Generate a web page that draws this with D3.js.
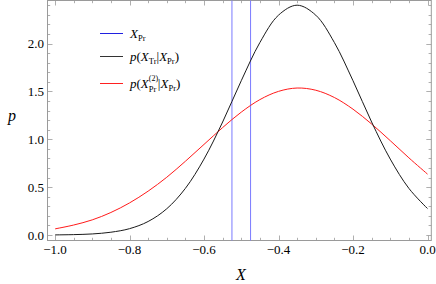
<!DOCTYPE html>
<html><head><meta charset="utf-8">
<script src="https://cdn.jsdelivr.net/npm/d3@7"></script>
<style>body{margin:0;background:#fff}svg{display:block}</style>
</head><body>
<script>
const xs = [-1.00,-0.95,-0.90,-0.85,-0.80,-0.75,-0.70,-0.65,-0.60,-0.55,-0.50,-0.45,-0.40,-0.35,-0.30,-0.25,-0.20,-0.15,-0.10,-0.05,0.00];
const pTr = [0.001,0.004,0.011,0.029,0.066,0.141,0.274,0.487,0.793,1.180,1.611,2.010,2.296,2.400,2.296,2.010,1.611,1.180,0.793,0.487,0.276];
const pPr2 = [0.064,0.104,0.158,0.235,0.335,0.458,0.603,0.770,0.946,1.122,1.283,1.414,1.500,1.535,1.512,1.436,1.314,1.159,0.985,0.806,0.636];
const xPrLines = [-0.525,-0.475];
const xTicks = [-1.0,-0.8,-0.6,-0.4,-0.2,0.0];
const yTicks = [0.0,0.5,1.0,1.5,2.0];

const W=436,H=284;
const svg=d3.select("body").append("svg").attr("width",W).attr("height",H);
const x=d3.scaleLinear().domain([-1,0]).range([55,427.5]);
const y=d3.scaleLinear().domain([0,2]).range([235,43.5]);
const fL=47.5,fR=431.3,fT=0.5,fB=240.5;
const frameCol="#9a9a9a";
const font="'Liberation Serif','Times New Roman',serif";

svg.append("rect").attr("x",fL).attr("y",fT).attr("width",fR-fL).attr("height",fB-fT)
  .attr("fill","none").attr("stroke",frameCol).attr("stroke-width",1);

const g=svg.append("g").attr("stroke",frameCol).attr("stroke-width",0.8);
const xMinor=d3.range(-1,0.0001,0.05);
xMinor.forEach(v=>{
  const major=xTicks.some(t=>Math.abs(t-v)<1e-6);
  const L=major?5:2.7;
  const px=Math.round(x(v))+0.5;
  g.append("line").attr("x1",px).attr("x2",px).attr("y1",fB).attr("y2",fB-L);
  g.append("line").attr("x1",px).attr("x2",px).attr("y1",fT).attr("y2",fT+L);
});
const yMinor=d3.range(0,2.4001,0.1);
yMinor.forEach(v=>{
  const major=Math.abs(Math.round(v*2)-v*2)<1e-6;
  const L=major?5:2.7;
  const py=Math.round(y(v))+0.5;
  g.append("line").attr("y1",py).attr("y2",py).attr("x1",fL).attr("x2",fL+L);
  g.append("line").attr("y1",py).attr("y2",py).attr("x1",fR).attr("x2",fR-L);
});

const fmt=v=>(v<0?"\u2212":"")+Math.abs(v).toFixed(1);
svg.append("g").selectAll("text").data(xTicks).join("text")
  .attr("x",d=>x(d)).attr("y",253.5).attr("text-anchor","middle")
  .attr("font-family",font).attr("font-size",13).attr("fill","#000").text(fmt);
svg.append("g").selectAll("text").data(yTicks).join("text")
  .attr("x",44).attr("y",d=>y(d)+4.5).attr("text-anchor","end")
  .attr("font-family",font).attr("font-size",13).attr("fill","#000").text(fmt);

svg.append("text").attr("x",241).attr("y",280).attr("text-anchor","middle")
  .attr("font-family",font).attr("font-style","italic").attr("font-size",16).text("X");
svg.append("text").attr("x",12).attr("y",121).attr("text-anchor","middle")
  .attr("font-family",font).attr("font-style","italic").attr("font-size",16).text("p");

svg.append("g").selectAll("line").data(xPrLines).join("line")
  .attr("x1",d=>x(d)).attr("x2",d=>x(d)).attr("y1",fT).attr("y2",fB)
  .attr("stroke","#7a7aff").attr("stroke-width",1);

const line=d3.line().x((d,i)=>x(xs[i])).y(d=>y(d)).curve(d3.curveCatmullRom);
svg.append("path").attr("d",line(pPr2)).attr("fill","none").attr("stroke","#ff1a1a").attr("stroke-width",1);
svg.append("path").attr("d",line(pTr)).attr("fill","none").attr("stroke","#1a1a1a").attr("stroke-width",1);

// legend
const leg=[{c:"#2020e0",y:33.5},{c:"#333333",y:56.5},{c:"#ff2020",y:83.5}];
leg.forEach(d=>svg.append("line").attr("x1",100).attr("x2",123).attr("y1",d.y).attr("y2",d.y).attr("stroke",d.c).attr("stroke-width",1));
const lt=svg.append("g").attr("font-family",font).attr("fill","#000");

// runs: [text, italic, size, dyOffset(baseline shift), advance?]
function writeRuns(x0,base,runs){
  let cx=x0;
  runs.forEach(r=>{
    const el=lt.append("text").attr("x",cx).attr("y",base+(r.dy||0))
      .attr("font-size",r.s||13).attr("font-style",r.i?"italic":"normal").text(r.t);
    const w=el.node().getComputedTextLength();
    if(r.noAdv){ r._w=w; } else { cx+=w+(r.gap||0); }
  });
}
writeRuns(130,38,[{t:"X",i:1},{t:"Pr",s:8.5,dy:3}]);
writeRuns(130,61,[{t:"p",i:1},{t:"(",},{t:"X",i:1},{t:"Tr",s:8.5,dy:3},{t:"|"},{t:"X",i:1},{t:"Pr",s:8.5,dy:3},{t:")"}]);
writeRuns(130,88,[{t:"p",i:1},{t:"("},{t:"X",i:1},{t:"(2)",s:8,dy:-7.5,noAdv:1},{t:"Pr",s:8.5,dy:3.5,gap:1.5},{t:"|"},{t:"X",i:1},{t:"Pr",s:8.5,dy:3},{t:")"}]);
</script>
</body></html>
